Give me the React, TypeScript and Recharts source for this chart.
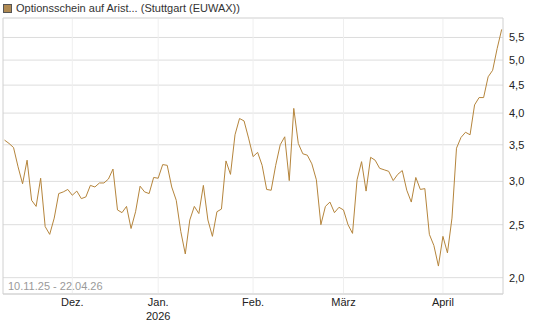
import React from 'react';
import { LineChart, Line, XAxis, YAxis, CartesianGrid, ReferenceLine } from 'recharts';

const seriesName = 'Optionsschein auf Arist... (Stuttgart (EUWAX))';
const rangeLabel = '10.11.25 - 22.04.26';

// daily closing prices, one per trading day from 10.11.25 to 22.04.26
const prices = [
  3.57, 3.52, 3.46, 3.19, 2.97, 3.28, 2.77, 2.70, 3.04, 2.48,
  2.40, 2.57, 2.85, 2.87, 2.90, 2.83, 2.88, 2.79, 2.81, 2.95,
  2.93, 2.98, 2.98, 3.03, 3.16, 2.66, 2.63, 2.70, 2.46, 2.64,
  2.94, 2.87, 2.85, 3.05, 3.04, 3.22, 3.21, 2.93, 2.77, 2.43,
  2.21, 2.55, 2.70, 2.62, 2.95, 2.55, 2.38, 2.64, 2.67, 3.27,
  3.09, 3.65, 3.91, 3.87, 3.60, 3.33, 3.39, 3.21, 2.90, 2.89,
  3.21, 3.50, 3.62, 3.01, 4.08, 3.52, 3.37, 3.35, 3.23, 3.02,
  2.50, 2.70, 2.75, 2.63, 2.69, 2.66, 2.50, 2.41, 3.02, 3.26,
  2.88, 3.32, 3.28, 3.17, 3.15, 3.13, 3.01, 3.09, 3.14, 2.89,
  2.75, 3.05, 2.90, 2.91, 2.40, 2.29, 2.10, 2.38, 2.22, 2.57,
  3.45, 3.61, 3.69, 3.65, 4.14, 4.27, 4.27, 4.66, 4.79, 5.25,
  5.69,
];

// trading-day index of the first trading day of each month
const monthTicks = [15, 34, 55, 75, 97];
const monthLabels = ['Dez.', 'Jan.', 'Feb.', 'März', 'April'];
const yearLabels = ['', '2026', '', '', ''];
const priceTicks = [2, 2.5, 3, 3.5, 4, 4.5, 5, 5.5];

const xDomain: [number, number] = [-0.33, 110.29];
const yDomain: [number, number] = [1.867, 5.97];

const data = prices.map((price, day) => ({ day, price }));

const FONT = '"Liberation Sans", Arial, Helvetica, sans-serif';
const LINE_COLOR = '#b5853c';

const MonthTick = (props: any) => {
  const { x, y, payload } = props;
  const i = monthTicks.indexOf(payload.value);
  if (i < 0) return null;
  return (
    <g>
      <text x={x} y={y + 10} textAnchor="middle" fontSize={11} fill="#222" fontFamily={FONT}>
        {monthLabels[i]}
      </text>
      {yearLabels[i] ? (
        <text x={x} y={y + 24} textAnchor="middle" fontSize={11} fill="#222" fontFamily={FONT}>
          {yearLabels[i]}
        </text>
      ) : null}
    </g>
  );
};

const PriceTick = (props: any) => {
  const { x, y, payload } = props;
  return (
    <text x={x + 4} y={y + 4} textAnchor="start" fontSize={11} fill="#222" fontFamily={FONT}>
      {Number(payload.value).toFixed(1).replace('.', ',')}
    </text>
  );
};

export default function App() {
  return (
    <div style={{ position: 'absolute', left: 0, top: 0, width: 545, height: 327, fontFamily: FONT }}>
      <div style={{ position: 'absolute', left: 3, top: 3, display: 'flex', alignItems: 'center', fontSize: 11, color: '#333', lineHeight: '11px', whiteSpace: 'nowrap' }}>
        <span style={{ display: 'inline-block', width: 7, height: 7, background: '#b08a52', border: '1px solid #555', marginRight: 4 }} />
        <span>{seriesName}</span>
      </div>
      <LineChart width={545} height={327} data={data} margin={{ top: 18, right: 0, bottom: 0, left: 3 }}>
        <CartesianGrid vertical={false} stroke="#dddddd" />
        {monthTicks.map((t) => (
          <ReferenceLine key={t} x={t} stroke="#efefef" />
        ))}
        <ReferenceLine x={xDomain[0]} stroke="#d0d0d0" />
        <ReferenceLine y={yDomain[1]} stroke="#e0e0e0" />
        <XAxis
          type="number"
          dataKey="day"
          domain={xDomain}
          ticks={monthTicks}
          allowDataOverflow
          height={33}
          tickSize={0}
          tickLine={false}
          axisLine={{ stroke: '#d0d0d0' }}
          tick={<MonthTick />}
          interval={0}
        />
        <YAxis
          orientation="right"
          scale="log"
          type="number"
          domain={yDomain}
          ticks={priceTicks}
          allowDataOverflow
          width={42}
          tickSize={0}
          tickLine={false}
          axisLine={{ stroke: '#d0d0d0' }}
          tick={<PriceTick />}
          interval={0}
        />
        <Line
          type="linear"
          dataKey="price"
          stroke={LINE_COLOR}
          strokeWidth={1}
          dot={false}
          isAnimationActive={false}
        />
      </LineChart>
      <div style={{ position: 'absolute', left: 8, top: 281, fontSize: 11, lineHeight: '11px', color: '#9a9a9a', whiteSpace: 'nowrap' }}>
        {rangeLabel}
      </div>
    </div>
  );
}
